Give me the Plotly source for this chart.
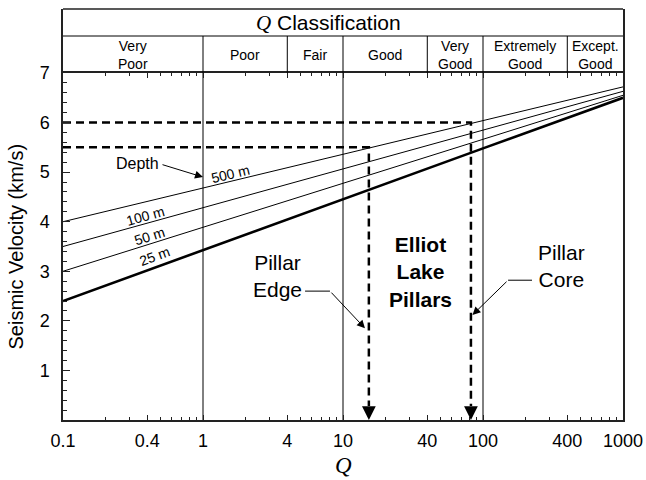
import numpy as np
import plotly.graph_objects as go

# Seismic P-wave velocity (km/s) against rock-mass Q for four depths
Q_NODES = [0.1, 1, 10, 100, 1000]
VP_25M = [2.40, 3.43, 4.45, 5.48, 6.50]
VP_50M = [3.00, 3.89, 4.78, 5.66, 6.55]
VP_100M = [3.50, 4.28, 5.07, 5.85, 6.63]
VP_500M = [4.00, 4.68, 5.36, 6.04, 6.72]
DEPTH_LABELS = ["25 m", "50 m", "100 m", "500 m"]

# Elliot Lake pillars: measured velocity and the Q it maps to
EDGE_Q, EDGE_VP = 15.3, 5.5
CORE_Q, CORE_VP = 82.0, 6.0

# Q classification bands
CLASS_BOUNDS = [0.1, 1, 4, 10, 40, 100, 400, 1000]
CLASS_NAMES = [["Very", "Poor"], ["Poor"], ["Fair"], ["Good"],
               ["Very", "Good"], ["Extremely", "Good"], ["Except.", "Good"]]

X_TICKS = [0.1, 0.4, 1, 4, 10, 40, 100, 400, 1000]
X_TICK_TEXT = ["0.1", "0.4", "1", "4", "10", "40", "100", "400", "1000"]
Y_TICKS = [1, 2, 3, 4, 5, 6, 7]
X_MINOR = [m * 10.0 ** e for e in range(-1, 3) for m in range(2, 10)]

FONT = "Liberation Sans, Arial, sans-serif"
SERIF = "Liberation Serif, Times New Roman, serif"
INK = "#000000"

W, H = 646, 480
ML, MR, MT, MB = 63, 23, 9, 60
PLOT_H = H - MT - MB
MAIN_H = 347                       # px height of the velocity panel
SPLIT = MAIN_H / PLOT_H
HEADER_UNITS = PLOT_H - MAIN_H     # header y axis measured in px units
CAT_ROW = 37                       # height of the category row

X_RANGE = [-1, 3]
Y_RANGE = [0, 7]
PX_PER_DECADE = (W - ML - MR) / (X_RANGE[1] - X_RANGE[0])
PX_PER_KMS = MAIN_H / (Y_RANGE[1] - Y_RANGE[0])

fig = go.Figure()

# vertical reference lines at Q = 1, 10, 100
for q in [1, 10, 100]:
    fig.add_trace(go.Scatter(x=[q, q], y=Y_RANGE, mode="lines",
                             line=dict(color=INK, width=1),
                             hoverinfo="skip", showlegend=False))

series = [VP_25M, VP_50M, VP_100M, VP_500M]
widths = [2.6, 1, 1, 1]
for vp, w, name in zip(series, widths, DEPTH_LABELS):
    fig.add_trace(go.Scatter(x=Q_NODES, y=vp, mode="lines", name=name,
                             line=dict(color=INK, width=w),
                             hoverinfo="skip", showlegend=False))

# dashed read-off lines for the pillar edge and core
ARROW_PX = 14
stop_vp = ARROW_PX / PX_PER_KMS
for q, vp in [(EDGE_Q, EDGE_VP), (CORE_Q, CORE_VP)]:
    fig.add_trace(go.Scatter(x=[Q_NODES[0], q, q], y=[vp, vp, stop_vp],
                             mode="lines",
                             line=dict(color=INK, width=2.5, dash="8px,5px"),
                             hoverinfo="skip", showlegend=False))

# header: category dividers and row separator
for b in CLASS_BOUNDS[1:-1]:
    fig.add_trace(go.Scatter(x=[b, b], y=[0, CAT_ROW], mode="lines",
                             xaxis="x2", yaxis="y2",
                             line=dict(color=INK, width=1),
                             hoverinfo="skip", showlegend=False))
fig.add_trace(go.Scatter(x=[CLASS_BOUNDS[0], CLASS_BOUNDS[-1]], y=[CAT_ROW, CAT_ROW],
                         mode="lines", xaxis="x2", yaxis="y2",
                         line=dict(color=INK, width=1),
                         hoverinfo="skip", showlegend=False))

annotations = []

# category labels
for lo, hi, words in zip(CLASS_BOUNDS[:-1], CLASS_BOUNDS[1:], CLASS_NAMES):
    xc = (np.log10(lo) + np.log10(hi)) / 2
    annotations.append(dict(x=xc, y=CAT_ROW / 2, xref="x2", yref="y2",
                            text="<br>".join(words),
                            showarrow=False, xanchor="center", yanchor="middle",
                            font=dict(family=FONT, size=14, color=INK)))

annotations.append(dict(
    x=(328 - ML) / (W - ML - MR), y=(CAT_ROW + HEADER_UNITS) / 2,
    xref="paper", yref="y2",
    text=f'<i><span style="font-family:{SERIF}">Q</span></i> Classification',
    showarrow=False, xanchor="center", yanchor="middle",
    font=dict(family=FONT, size=21, color=INK)))

# depth labels placed along their lines
label_logq = [-0.343, -0.379, -0.414, 0.193]
label_lift = [0.24, 0.16, 0.15, 0.15]
log_nodes = np.log10(Q_NODES)
for vp, name, lq, lift in zip(series, DEPTH_LABELS, label_logq, label_lift):
    v_at = float(np.interp(lq, log_nodes, vp))
    slope = (vp[-1] - vp[0]) / (log_nodes[-1] - log_nodes[0])
    angle = -np.degrees(np.arctan(slope * PX_PER_KMS / PX_PER_DECADE))
    annotations.append(dict(x=lq, y=v_at + lift, xref="x", yref="y", text=name,
                            showarrow=False, textangle=angle,
                            xanchor="center", yanchor="middle",
                            font=dict(family=FONT, size=14, color=INK)))

annotations.append(dict(x=-0.471, y=5.18, xref="x", yref="y", text="Depth",
                        showarrow=False, font=dict(family=FONT, size=16, color=INK)))
annotations.append(dict(x=0.0, y=4.90, ax=-0.30, ay=5.16, xref="x", yref="y",
                        axref="x", ayref="y", text="", showarrow=True,
                        arrowhead=2, arrowsize=1.6, arrowwidth=1, arrowcolor=INK,
                        standoff=0))

# arrowheads at the foot of the dashed lines
for q in [EDGE_Q, CORE_Q]:
    annotations.append(dict(x=np.log10(q), y=0, xref="x", yref="y", text="",
                            showarrow=True, ax=0, ay=-ARROW_PX, arrowhead=2,
                            arrowsize=1.1, arrowwidth=2.5, arrowcolor=INK, standoff=0))

# pillar annotations
BIG = dict(family=FONT, size=21, color=INK)
annotations.append(dict(x=0.529, y=2.90, xref="x", yref="y", text="Pillar<br>Edge",
                        showarrow=False, font=BIG))
annotations.append(dict(x=2.564, y=3.10, xref="x", yref="y", text="Pillar<br>Core",
                        showarrow=False, font=BIG))
annotations.append(dict(x=1.557, y=2.98, xref="x", yref="y",
                        text="<b>Elliot</b><br><b>Lake</b><br><b>Pillars</b>",
                        showarrow=False, font=BIG))

fig.add_trace(go.Scatter(x=[10 ** 0.729, 10 ** 0.907], y=[2.60, 2.60], mode="lines",
                         line=dict(color=INK, width=1), hoverinfo="skip", showlegend=False))
annotations.append(dict(x=1.157, y=1.85, ax=0.907, ay=2.60, xref="x", yref="y",
                        axref="x", ayref="y", text="", showarrow=True, arrowhead=2,
                        arrowsize=1.6, arrowwidth=1, arrowcolor=INK, standoff=0))
fig.add_trace(go.Scatter(x=[10 ** 2.35, 10 ** 2.179], y=[2.82, 2.82], mode="lines",
                         line=dict(color=INK, width=1), hoverinfo="skip", showlegend=False))
annotations.append(dict(x=1.925, y=2.12, ax=2.179, ay=2.82, xref="x", yref="y",
                        axref="x", ayref="y", text="", showarrow=True, arrowhead=2,
                        arrowsize=1.6, arrowwidth=1, arrowcolor=INK, standoff=0))

# axis titles
annotations.append(dict(x=-48 / (W - ML - MR), y=3.5, xref="paper", yref="y",
                        text="Seismic Velocity (km/s)", textangle=-90, showarrow=False,
                        xanchor="center", yanchor="middle",
                        font=dict(family=FONT, size=20, color=INK)))
annotations.append(dict(x=0.5, y=-(465 - (MT + HEADER_UNITS + MAIN_H)) / PLOT_H,
                        xref="paper", yref="paper", text="<i>Q</i>", showarrow=False,
                        xanchor="center", yanchor="middle",
                        font=dict(family=SERIF, size=23, color=INK)))

AX_LINE = "#222222"
fig.update_layout(
    width=W, height=H,
    margin=dict(l=ML, r=MR, t=MT, b=MB, pad=0, autoexpand=False),
    paper_bgcolor="white", plot_bgcolor="white",
    showlegend=False,
    font=dict(family=FONT, color=INK),
    xaxis=dict(type="log", range=X_RANGE, domain=[0, 1], anchor="y",
               tickmode="array", tickvals=X_TICKS, ticktext=X_TICK_TEXT,
               ticks="inside", ticklen=5, tickwidth=1, tickcolor=AX_LINE,
               minor=dict(tickmode="array", tickvals=X_MINOR, ticks="inside",
                          ticklen=3.5, tickwidth=1, tickcolor=AX_LINE),
               showgrid=False, zeroline=False, automargin=False,
               showline=True, linecolor=AX_LINE, linewidth=1.5, mirror="ticks",
               tickfont=dict(family=FONT, size=18, color=INK), ticklabelstandoff=4),
    yaxis=dict(range=Y_RANGE, domain=[0, SPLIT], anchor="x",
               tickmode="array", tickvals=Y_TICKS,
               ticks="inside", ticklen=7, tickwidth=1, tickcolor=AX_LINE,
               minor=dict(dtick=0.2, ticks="inside", ticklen=4, tickwidth=1,
                          tickcolor=AX_LINE),
               showgrid=False, zeroline=False, automargin=False,
               showline=True, linecolor=AX_LINE, linewidth=1.5, mirror=True,
               tickfont=dict(family=FONT, size=18, color=INK), ticklabelstandoff=8),
    xaxis2=dict(type="log", range=X_RANGE, domain=[0, 1], anchor="y2",
                showticklabels=False, ticks="", showgrid=False, zeroline=False,
                automargin=False, showline=False),
    yaxis2=dict(range=[0, HEADER_UNITS], domain=[SPLIT, 1], anchor="x2",
                showticklabels=False, ticks="", showgrid=False, zeroline=False,
                automargin=False,
                showline=True, linecolor=AX_LINE, linewidth=1.5, mirror=True),
    shapes=[dict(type="line", xref="paper", yref="paper", x0=0, x1=1, y0=1, y1=1,
                 line=dict(color=AX_LINE, width=1.5))],
    annotations=annotations,
)

fig.write_html("out.html")
